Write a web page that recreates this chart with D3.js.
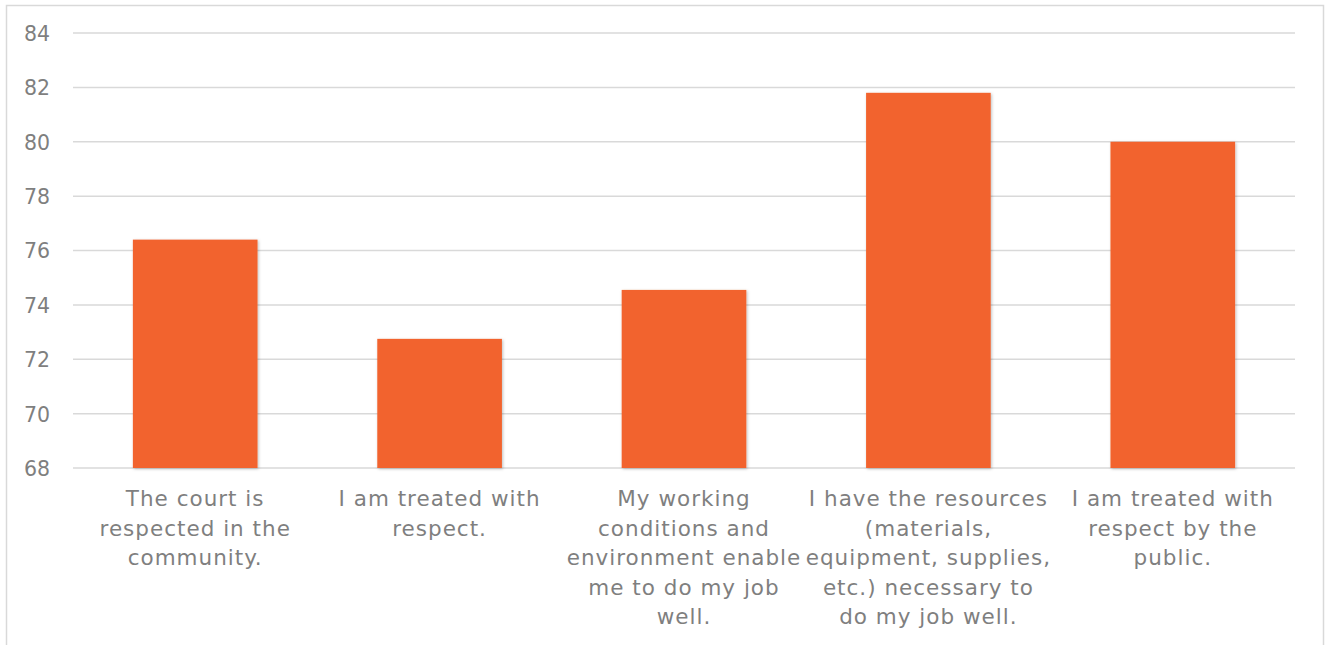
<!DOCTYPE html>
<html><head><meta charset="utf-8">
<script src="https://cdn.jsdelivr.net/npm/d3@7"></script>
<style>body{margin:0;background:#fff;} svg{display:block;}</style>
</head><body>
<svg id="c" width="1331" height="645"></svg>
<script>
const categories = [
  ["The court is", "respected in the", "community."],
  ["I am treated with", "respect."],
  ["My working", "conditions and", "environment enable", "me to do my job", "well."],
  ["I have the resources", "(materials,", "equipment, supplies,", "etc.) necessary to", "do my job well."],
  ["I am treated with", "respect by the", "public."]
];
const values = [76.4, 72.75, 74.55, 81.8, 80.0];
const yTicks = [68, 70, 72, 74, 76, 78, 80, 82, 84];

const svg = d3.select("#c");
const font = "'Century Gothic', 'DejaVu Sans', sans-serif";
const margin = {left: 73, right: 1295, top: 33, bottom: 468};

// border
svg.append("rect").attr("x", 6.5).attr("y", 5.5).attr("width", 1317).attr("height", 700)
  .attr("fill", "none").attr("stroke", "#d9d9d9").attr("stroke-width", 1.5);

const defs = svg.append("defs");
const f = defs.append("filter").attr("id", "sh").attr("x", "-10%").attr("y", "-10%").attr("width", "130%").attr("height", "130%");
f.append("feDropShadow").attr("dx", 1).attr("dy", 1).attr("stdDeviation", 1.5).attr("flood-color", "#000").attr("flood-opacity", 0.25);

const x = d3.scaleBand().domain(d3.range(values.length)).range([margin.left, margin.right]).paddingInner(0.49).paddingOuter(0.245);
const y = d3.scaleLinear().domain([68, 84]).range([margin.bottom, margin.top]);

const grid = svg.append("g");
grid.selectAll("line").data(yTicks).join("line")
  .attr("x1", margin.left).attr("x2", margin.right)
  .attr("y1", d => y(d)).attr("y2", d => y(d))
  .attr("stroke", "#d9d9d9").attr("stroke-width", 1.5);

const yAxis = d3.axisLeft(y).tickValues(yTicks).tickSize(0).tickPadding(0);
const ga = svg.append("g").attr("transform", "translate(50,0)").call(yAxis);
ga.select(".domain").remove();
ga.selectAll("text").attr("font-family", font).attr("font-size", 20.5).attr("fill", "#7f7f7f").attr("dy", "0.36em");

svg.append("g").selectAll("rect").data(values).join("rect")
  .attr("x", (d, i) => x(i)).attr("width", x.bandwidth())
  .attr("y", d => y(d)).attr("height", d => y(68) - y(d))
  .attr("fill", "#F2642D").attr("filter", "url(#sh)");

const lab = svg.append("g");
categories.forEach((lines, i) => {
  const t = lab.append("text").attr("text-anchor", "middle").attr("font-family", font)
    .attr("font-size", 21.5).attr("letter-spacing", 1).attr("fill", "#7f7f7f");
  lines.forEach((ln, j) => {
    t.append("tspan").attr("x", x(i) + x.bandwidth() / 2).attr("y", 506 + j * 29.5).text(ln);
  });
});
</script>
</body></html>
